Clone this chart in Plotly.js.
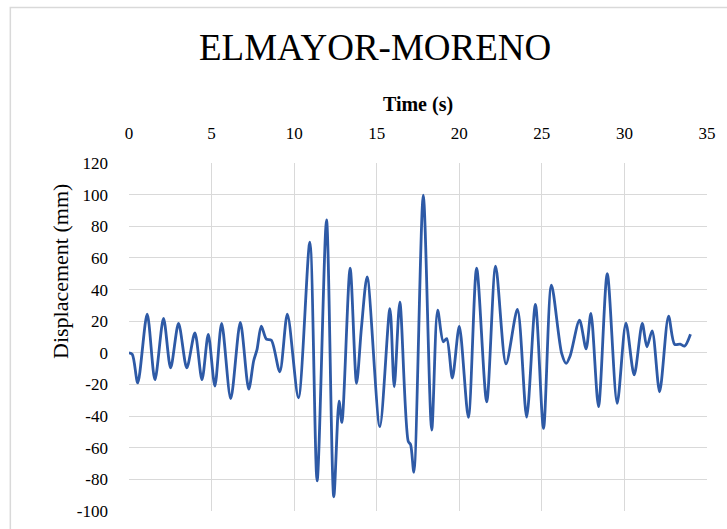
<!DOCTYPE html>
<html>
<head>
<meta charset="utf-8">
<script src="https://cdn.plot.ly/plotly-3.0.1.min.js"></script>
<style>html,body{margin:0;padding:0;background:#fff;}#chart{width:727px;height:529px;}</style>
</head>
<body>
<div id="chart"></div>
<script>
const chartTitle = "ELMAYOR-MORENO";
const xTitle = "Time (s)";
const yTitle = "Displacement (mm)";
const xTicks = [0, 5, 10, 15, 20, 25, 30, 35];
const yTicks = [-100, -80, -60, -40, -20, 0, 20, 40, 60, 80, 100, 120];

const time = [0, 0.2, 0.53, 1.1, 1.57, 2.09, 2.52, 3.0, 3.5, 3.99, 4.42, 4.8, 5.2, 5.61, 6.16, 6.74, 7.25, 7.55, 7.75, 8.01, 8.32, 8.62, 9.13, 9.59, 10.26, 10.95, 11.39, 11.96, 12.4, 12.72, 12.89, 13.39, 13.78, 14.08, 14.42, 15.19, 15.8, 16.06, 16.4, 16.91, 17.05, 17.25, 17.82, 18.33, 18.69, 19.03, 19.24, 19.58, 20.0, 20.55, 21.05, 21.66, 22.2, 22.83, 23.52, 24.08, 24.61, 25.1, 25.58, 26.2, 26.47, 26.71, 27.28, 27.68, 27.97, 28.43, 28.96, 29.56, 30.09, 30.59, 31.08, 31.36, 31.68, 32.13, 32.67, 33.04, 33.38, 33.64, 34.0];
const displacement = [0, -1, -19, 24.5, -17, 21.7, -9.5, 18.6, -9.5, 12.6, -17, 11.6, -21, 18.6, -29, 19.2, -23, -5, 2, 16.9, 8.7, 8, -12, 24.5, -28.4, 70, -81, 84, -91, -30.5, -44, 53.5, -19.3, 16.4, 48, -46.7, 28, -21.5, 32, -56, -58, -75.5, 99.6, -48.8, 27, 7, 9, -16, 16.7, -40.8, 53.5, -31, 54.8, -7, 27.4, -40.6, 30.6, -47.8, 42.8, -0.4, -6.7, -2, 20.7, 2.5, 24.9, -34, 50, -32, 18.8, -14, 18.6, 3.8, 13.9, -24.6, 23.2, 5.3, 5.5, 4.2, 11.8];

const serif = "Liberation Serif, Times New Roman, serif";

const trace = {
  x: time,
  y: displacement,
  type: "scatter",
  mode: "lines",
  line: {color: "#2E5AA6", width: 2.8, shape: "spline", smoothing: 0.8},
  hoverinfo: "x+y"
};

const layout = {
  width: 727,
  height: 529,
  margin: {l: 129, r: 20, t: 163, b: 18},
  paper_bgcolor: "#ffffff",
  plot_bgcolor: "#ffffff",
  showlegend: false,
  font: {family: serif, color: "#000000", size: 17},
  title: {
    text: chartTitle,
    font: {family: serif, size: 37, color: "#000000"},
    xref: "container", yref: "container",
    x: 0.516, xanchor: "center",
    y: 0.911, yanchor: "middle"
  },
  xaxis: {
    side: "top",
    range: [0, 35],
    tickvals: xTicks,
    ticktext: xTicks.map(String),
    showgrid: true,
    gridcolor: "#d9d9d9",
    gridwidth: 1,
    zeroline: false,
    showline: false,
    ticks: "",
    ticklabelstandoff: 20,
    tickfont: {family: serif, size: 17, color: "#000000"},
    title: {text: xTitle, font: {family: serif, size: 20, color: "#000000", weight: "bold"}, standoff: 6}
  },
  yaxis: {
    range: [-100, 120],
    tickvals: yTicks,
    ticktext: yTicks.map(String),
    showgrid: true,
    gridcolor: "#d9d9d9",
    gridwidth: 1,
    zeroline: false,
    showline: false,
    ticks: "",
    ticklabelstandoff: 20,
    tickfont: {family: serif, size: 17, color: "#000000"}
  },
  annotations: [{
    text: yTitle,
    xref: "paper", yref: "paper",
    x: (60 - 129) / 578, y: (511 - 272) / 348,
    xanchor: "center", yanchor: "middle",
    textangle: -90,
    showarrow: false,
    font: {family: serif, size: 22, color: "#000000"}
  }],
  shapes: [{
    type: "rect", xref: "paper", yref: "paper",
    x0: -0.2053, x1: 1.2, y0: -0.2, y1: 1.447,
    line: {color: "#d9d9d9", width: 1.5},
    fillcolor: "rgba(0,0,0,0)",
    layer: "below"
  }]
};

Plotly.newPlot("chart", [trace], layout, {displayModeBar: false, staticPlot: true});
</script>
</body>
</html>
